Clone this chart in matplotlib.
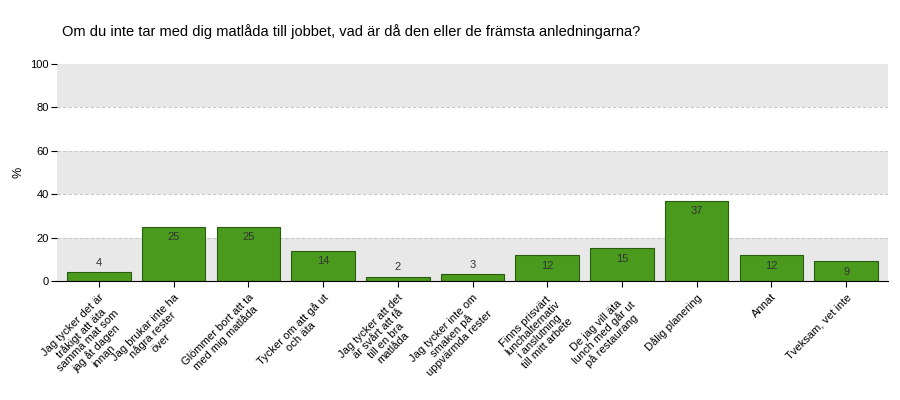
import matplotlib
matplotlib.use("Agg")
import matplotlib.pyplot as plt
import numpy as np

title = "Om du inte tar med dig matlåda till jobbet, vad är då den eller de främsta anledningarna?"
categories = [
    "Jag tycker det är\ntråkigt att äta\nsamma mat som\njag åt dagen\ninnan",
    "Jag brukar inte ha\nnågra rester\növer",
    "Glömmer bort att ta\nmed mig matlåda",
    "Tycker om att gå ut\noch äta",
    "Jag tycker att det\när svårt att få\ntill en bra\nmatlåda",
    "Jag tycker inte om\nsmaken på\nuppvärmda rester",
    "Finns prisvärt\nlunchalternativ\ni anslutning\ntill mitt arbete",
    "De jag vill äta\nlunch med går ut\npå restaurang",
    "Dålig planering",
    "Annat",
    "Tveksam, vet inte",
]
values = [4, 25, 25, 14, 2, 3, 12, 15, 37, 12, 9]
yticks = [0, 20, 40, 60, 80, 100]

plt.rcParams['font.family'] = ['Liberation Sans', 'DejaVu Sans']
fig = plt.figure(figsize=(9, 4), dpi=100)
ax = fig.add_axes([57/900, 1-281/400, (888-57)/900, (281-64)/400])

x = np.arange(len(values))
ax.set_xlim(-0.56, len(values) - 1 + 0.56)
ax.set_ylim(0, 100)

# alternating bands
for i in range(0, 100, 20):
    if (i // 20) % 2 == 0:
        ax.axhspan(i, i + 20, color='#e8e8e8', zorder=0, lw=0)
for t in [20, 40, 60, 80]:
    ax.axhline(t, color='#c8c8c8', lw=0.8, ls=(0, (3, 2)), zorder=1)

ax.bar(x, values, width=0.85, color='#4a9a1e', edgecolor='#2a5c10', linewidth=0.8, zorder=2)

for xi, v in zip(x, values):
    if v >= 5:
        ax.annotate(str(v), (xi, v), xytext=(0, -4), textcoords='offset points',
                    ha='center', va='top', fontsize=8, color='#333333', zorder=3)
    else:
        ax.annotate(str(v), (xi, v), xytext=(0, 3), textcoords='offset points',
                    ha='center', va='bottom', fontsize=8, color='#333333', zorder=3)

for s in ['top', 'left', 'right']:
    ax.spines[s].set_visible(False)
ax.spines['bottom'].set_color('black')

ax.set_yticks(yticks)
ax.set_yticklabels([str(t) for t in yticks], fontsize=8)
ax.tick_params(axis='y', length=4, pad=2, width=0.8)
ax.set_xticks(x)
ax.set_xticklabels(categories, fontsize=8, rotation=45, ha='right',
                   rotation_mode='anchor', multialignment='center', linespacing=1.05)
ax.tick_params(axis='x', length=4, width=0.8, pad=4)
ax.set_ylabel('%', fontsize=9, labelpad=4)

fig.text(62/900, 1-32/400, title, fontsize=10.5, ha='left', va='center', color='black')

fig.savefig('out.png', dpi=100)
